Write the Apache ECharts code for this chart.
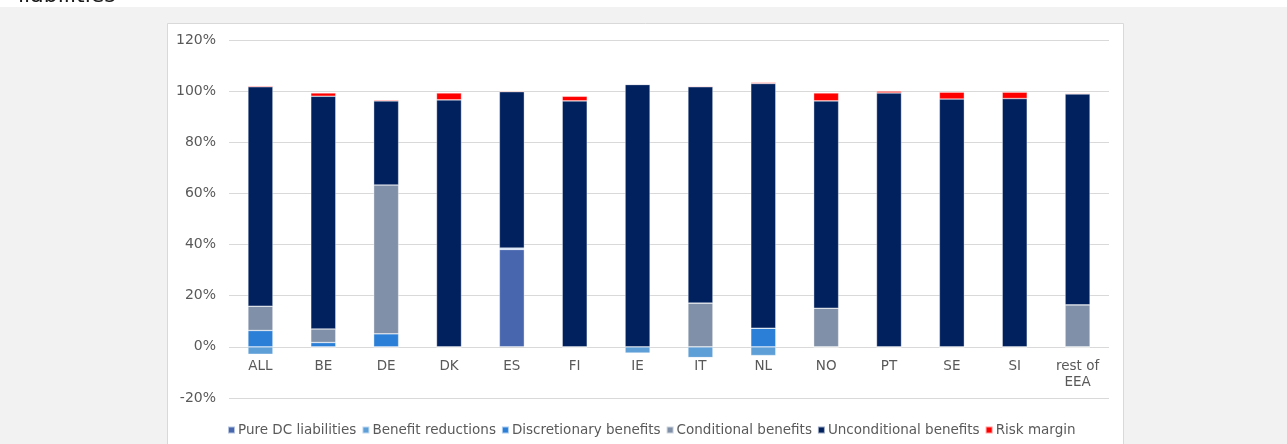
<!DOCTYPE html>
<html>
<head>
<meta charset="utf-8">
<script src="https://cdn.jsdelivr.net/npm/echarts@6/dist/echarts.min.js"></script>
<style>
  html, body { margin: 0; padding: 0; background: #f2f2f2; }
  #chart { width: 1287px; height: 444px; }
</style>
</head>
<body>
<div id="chart"></div>
<script>
// categories and stacked shares (% of liabilities)
const categories = ['ALL', 'BE', 'DE', 'DK', 'ES', 'FI', 'IE', 'IT', 'NL', 'NO', 'PT', 'SE', 'SI', 'rest of\nEEA']
const pureDC = [0, 0, 0, 0, 38.1, 0, 0, 0, 0, 0, 0, 0, 0, 0]
const benefitReductions = [-2.9, 0, 0, 0, 0, 0, -2.5, -4.2, -3.4, 0, 0, 0, 0, 0]
const discretionary = [6.4, 1.7, 5.1, 0, 0.5, 0, 0, 0, 7.3, 0, 0, 0, 0, 0]
const conditional = [9.5, 5.3, 58.2, 0, 0, 0, 0, 17.1, 0, 15.1, 0, 0, 0, 16.4]
const unconditional = [85.8, 91.0, 32.9, 96.6, 61.2, 96.2, 102.6, 84.6, 95.7, 81.1, 99.3, 96.9, 97.1, 82.5]
const riskMargin = [0.4, 1.3, 0.4, 2.7, 0.3, 1.8, 0, 0.3, 0.4, 3.1, 0.7, 2.7, 2.5, 0.3]

const seriesDefs = [
  { name: 'Pure DC liabilities', data: pureDC, color: '#4866ae' },
  { name: 'Benefit reductions', data: benefitReductions, color: '#5f9fd8' },
  { name: 'Discretionary benefits', data: discretionary, color: '#2b7fd6' },
  { name: 'Conditional benefits', data: conditional, color: '#8090a8' },
  { name: 'Unconditional benefits', data: unconditional, color: '#00205e' },
  { name: 'Risk margin', data: riskMargin, color: '#ff0000' }
]

const font = '"DejaVu Sans", Verdana, sans-serif'
const chart = echarts.init(document.getElementById('chart'))

chart.setOption({
  animation: false,
  backgroundColor: '#f2f2f2',
  graphic: [
    { type: 'rect', shape: { x: 0, y: 0, width: 1287, height: 7 }, style: { fill: '#ffffff' }, z: -10 },
    { type: 'text', left: 18, top: -15, style: { text: 'liabilities', font: '22px ' + font, fill: '#1a1a1a' }, z: -5 },
    { type: 'rect', shape: { x: 167.5, y: 23.5, width: 956, height: 440 }, style: { fill: '#ffffff', stroke: '#d9d9d9', lineWidth: 1 }, z: -10 }
  ],
  grid: { left: 229, right: 178, top: 40, bottom: 46 },
  legend: {
    top: 418,
    left: 222,
    icon: 'rect',
    itemWidth: 7,
    itemHeight: 7,
    itemGap: 5,
    textStyle: { color: '#595959', fontSize: 13.5, fontFamily: font, padding: [0, 0, 0, -2] },
    data: seriesDefs.map(s => s.name)
  },
  xAxis: {
    type: 'category',
    data: categories,
    offset: -51,
    axisLine: { show: false, onZero: false },
    axisTick: { show: false },
    axisLabel: { color: '#595959', fontSize: 13.5, fontFamily: font, margin: 11, lineHeight: 16, interval: 0 }
  },
  yAxis: {
    type: 'value',
    min: -20,
    max: 120,
    interval: 20,
    axisLine: { show: false },
    axisTick: { show: false },
    axisLabel: { color: '#595959', fontSize: 14, fontFamily: font, margin: 13, formatter: '{value}%' },
    splitLine: { lineStyle: { color: '#d9d9d9', width: 1 } }
  },
  series: seriesDefs.map(s => ({
    name: s.name,
    type: 'bar',
    stack: 'total',
    barWidth: 25,
    data: s.data,
    itemStyle: { color: s.color, borderColor: 'rgba(255,255,255,0.6)', borderWidth: 0.6 }
  }))
})
</script>
</body>
</html>
